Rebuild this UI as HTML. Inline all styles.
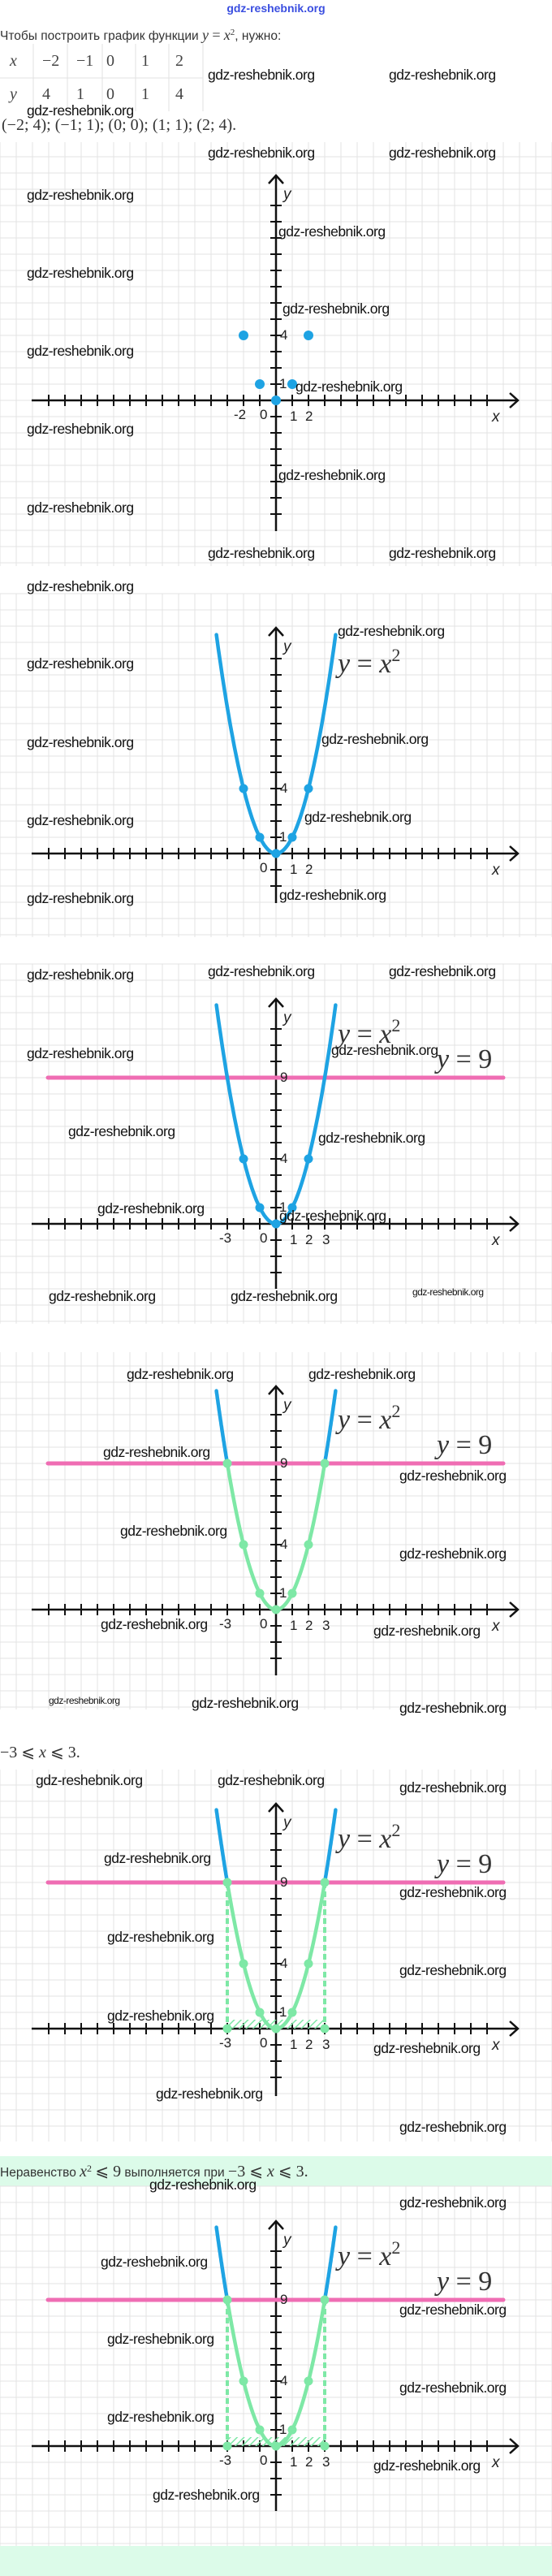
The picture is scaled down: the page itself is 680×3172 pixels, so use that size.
<!DOCTYPE html>
<html><head><meta charset="utf-8">
<style>
html,body{margin:0;padding:0;}
body{width:680px;height:3172px;position:relative;background:#fff;overflow:hidden;font-family:"Liberation Sans",sans-serif;}
svg{position:absolute;left:0;top:0;}
.t{position:absolute;white-space:nowrap;line-height:1;}
.w{position:absolute;white-space:nowrap;font-family:"Liberation Sans",sans-serif;font-size:17.5px;letter-spacing:-0.5px;color:#111;line-height:20px;}
.s{font-size:12px;letter-spacing:-0.5px;}
.m{font-family:"Liberation Serif",serif;}
.i{font-style:italic;}
.lab{position:absolute;font-family:"Liberation Sans",sans-serif;font-size:17px;color:#222;line-height:18px;}
.eq{position:absolute;font-family:"Liberation Serif",serif;font-size:34px;color:#333;line-height:36px;white-space:nowrap;}
</style></head><body>
<svg id="g" width="680" height="3172" xmlns="http://www.w3.org/2000/svg"></svg>

<div class="t" style="left:0;top:3px;width:680px;text-align:center;font-size:14px;color:#3a4ee0;font-weight:bold;">gdz-reshebnik.org</div>
<div class="t" style="left:0;top:34px;font-size:15.5px;color:#333;">Чтобы построить график функции <span class="m i" style="font-size:18px">y</span> <span class="m" style="font-size:18px">=</span> <span class="m i" style="font-size:18px">x</span><sup class="m" style="font-size:11px">2</sup>, нужно:</div>
<div class="t m" style="left:2px;top:144px;font-size:20px;color:#333;">(−2; 4); (−1; 1); (0; 0); (1; 1); (2; 4).</div>
<div class="t m" style="left:0;top:2148px;font-size:20px;color:#333;">−3 ⩽ <i>x</i> ⩽ 3.</div>
<div class="t" style="left:0;top:2664px;font-size:15.5px;color:#333;">Неравенство <span class="m i" style="font-size:20px">x</span><sup class="m" style="font-size:12px">2</sup> <span class="m" style="font-size:20px">⩽ 9</span> выполняется при <span class="m" style="font-size:20px">−3 ⩽ <i>x</i> ⩽ 3.</span></div>

<div id="labels"></div>

<div class="w" style="left:256px;top:82px">gdz-reshebnik.org</div>
<div class="w" style="left:479px;top:82px">gdz-reshebnik.org</div>
<div class="w" style="left:33px;top:126px">gdz-reshebnik.org</div>
<div class="w" style="left:256px;top:178px">gdz-reshebnik.org</div>
<div class="w" style="left:479px;top:178px">gdz-reshebnik.org</div>
<div class="w" style="left:33px;top:230px">gdz-reshebnik.org</div>
<div class="w" style="left:343px;top:275px">gdz-reshebnik.org</div>
<div class="w" style="left:33px;top:326px">gdz-reshebnik.org</div>
<div class="w" style="left:348px;top:370px">gdz-reshebnik.org</div>
<div class="w" style="left:33px;top:422px">gdz-reshebnik.org</div>
<div class="w" style="left:364px;top:466px">gdz-reshebnik.org</div>
<div class="w" style="left:33px;top:518px">gdz-reshebnik.org</div>
<div class="w" style="left:343px;top:575px">gdz-reshebnik.org</div>
<div class="w" style="left:33px;top:615px">gdz-reshebnik.org</div>
<div class="w" style="left:256px;top:671px">gdz-reshebnik.org</div>
<div class="w" style="left:479px;top:671px">gdz-reshebnik.org</div>
<div class="w" style="left:33px;top:712px">gdz-reshebnik.org</div>

<div class="w" style="left:416px;top:767px">gdz-reshebnik.org</div>
<div class="w" style="left:33px;top:807px">gdz-reshebnik.org</div>
<div class="w" style="left:396px;top:900px">gdz-reshebnik.org</div>
<div class="w" style="left:33px;top:904px">gdz-reshebnik.org</div>
<div class="w" style="left:375px;top:996px">gdz-reshebnik.org</div>
<div class="w" style="left:33px;top:1000px">gdz-reshebnik.org</div>
<div class="w" style="left:344px;top:1092px">gdz-reshebnik.org</div>
<div class="w" style="left:33px;top:1096px">gdz-reshebnik.org</div>

<div class="w" style="left:33px;top:1190px">gdz-reshebnik.org</div>
<div class="w" style="left:256px;top:1186px">gdz-reshebnik.org</div>
<div class="w" style="left:479px;top:1186px">gdz-reshebnik.org</div>
<div class="w" style="left:33px;top:1287px">gdz-reshebnik.org</div>
<div class="w" style="left:408px;top:1283px">gdz-reshebnik.org</div>
<div class="w" style="left:84px;top:1383px">gdz-reshebnik.org</div>
<div class="w" style="left:392px;top:1391px">gdz-reshebnik.org</div>
<div class="w" style="left:120px;top:1478px">gdz-reshebnik.org</div>
<div class="w" style="left:344px;top:1487px">gdz-reshebnik.org</div>
<div class="w" style="left:60px;top:1586px">gdz-reshebnik.org</div>
<div class="w" style="left:284px;top:1586px">gdz-reshebnik.org</div>
<div class="w s" style="left:508px;top:1581px">gdz-reshebnik.org</div>

<div class="w" style="left:156px;top:1682px">gdz-reshebnik.org</div>
<div class="w" style="left:380px;top:1682px">gdz-reshebnik.org</div>
<div class="w" style="left:127px;top:1778px">gdz-reshebnik.org</div>
<div class="w" style="left:492px;top:1807px">gdz-reshebnik.org</div>
<div class="w" style="left:148px;top:1875px">gdz-reshebnik.org</div>
<div class="w" style="left:492px;top:1903px">gdz-reshebnik.org</div>
<div class="w" style="left:124px;top:1990px">gdz-reshebnik.org</div>
<div class="w" style="left:460px;top:1998px">gdz-reshebnik.org</div>
<div class="w s" style="left:60px;top:2084px">gdz-reshebnik.org</div>
<div class="w" style="left:236px;top:2087px">gdz-reshebnik.org</div>
<div class="w" style="left:492px;top:2093px">gdz-reshebnik.org</div>

<div class="w" style="left:44px;top:2182px">gdz-reshebnik.org</div>
<div class="w" style="left:268px;top:2182px">gdz-reshebnik.org</div>
<div class="w" style="left:492px;top:2191px">gdz-reshebnik.org</div>
<div class="w" style="left:128px;top:2278px">gdz-reshebnik.org</div>
<div class="w" style="left:492px;top:2320px">gdz-reshebnik.org</div>
<div class="w" style="left:132px;top:2375px">gdz-reshebnik.org</div>
<div class="w" style="left:492px;top:2416px">gdz-reshebnik.org</div>
<div class="w" style="left:132px;top:2472px">gdz-reshebnik.org</div>
<div class="w" style="left:460px;top:2512px">gdz-reshebnik.org</div>
<div class="w" style="left:192px;top:2568px">gdz-reshebnik.org</div>
<div class="w" style="left:492px;top:2609px">gdz-reshebnik.org</div>

<div class="w" style="left:184px;top:2680px">gdz-reshebnik.org</div>
<div class="w" style="left:492px;top:2702px">gdz-reshebnik.org</div>
<div class="w" style="left:124px;top:2775px">gdz-reshebnik.org</div>
<div class="w" style="left:492px;top:2834px">gdz-reshebnik.org</div>
<div class="w" style="left:132px;top:2870px">gdz-reshebnik.org</div>
<div class="w" style="left:492px;top:2930px">gdz-reshebnik.org</div>
<div class="w" style="left:132px;top:2966px">gdz-reshebnik.org</div>
<div class="w" style="left:460px;top:3026px">gdz-reshebnik.org</div>
<div class="w" style="left:188px;top:3062px">gdz-reshebnik.org</div>

<script>
var NS="http://www.w3.org/2000/svg",g=document.getElementById("g"),L=document.getElementById("labels");
function el(n,a){var e=document.createElementNS(NS,n);for(var k in a)e.setAttribute(k,a[k]);g.appendChild(e);return e;}
function lab(txt,x,y,cls,fs){var d=document.createElement("div");d.className=cls||"lab";d.textContent=txt;d.style.left=x+"px";d.style.top=y+"px";if(fs)d.style.fontSize=fs+"px";L.appendChild(d);return d;}
el("rect",{x:0,y:2655,width:680,height:37,fill:"#dcfbe9"});
el("rect",{x:0,y:3135,width:680,height:37,fill:"#dcfbe9"});
var defs=el("defs",{});
defs.innerHTML='<pattern id="h" width="6" height="6" patternUnits="userSpaceOnUse" patternTransform="rotate(45)"><line x1="0" y1="0" x2="0" y2="6" stroke="#7ee8a6" stroke-width="3"/></pattern>';
el("line",{x1:0,y1:96,x2:250,y2:96,stroke:"#e2e2e2"});
[41,83,126,167,208,250].forEach(function(x){el("line",{x1:x,y1:54,x2:x,y2:137,stroke:"#e2e2e2"});});
var tx=[["x","−2","−1","0","1","2"],["y","4","1","0","1","4"]],cx=[12,52,94,131,174,216];
tx.forEach(function(r,i){r.forEach(function(c,j){var d=lab(c,cx[j],i?106:65,"t m",20);d.style.color="#444";if(j==0)d.style.fontStyle="italic";});});

var panels=[
 {t:175,b:697,ax:493,yt:216,yb:654,type:1},
 {t:731,b:1154,ax:1051,yt:773,yb:1112,type:2},
 {t:1187,b:1630,ax:1507,yt:1230,yb:1587,type:3},
 {t:1665,b:2105,ax:1982,yt:1707,yb:2063,type:4},
 {t:2179,b:2637,ax:2498,yt:2221,yb:2581,type:5},
 {t:2692,b:3135,ax:3012,yt:2735,yb:3092,type:5}
];
var BLUE="#1ea3e3",GREEN="#7ee8a6",PINK="#ef6db3";
function X(u){return 340+20*u;}
panels.forEach(function(p){
 var a=p.ax;
 for(var x=0;x<=680;x+=20)el("line",{x1:x,y1:p.t,x2:x,y2:p.b,stroke:"#e3e3e3","stroke-width":1});
 var y0=a-Math.floor((a-p.t)/20)*20;
 for(var y=y0;y<=p.b;y+=20)el("line",{x1:0,y1:y,x2:680,y2:y,stroke:"#e3e3e3","stroke-width":1});
 el("line",{x1:39,y1:a,x2:638,y2:a,stroke:"#111","stroke-width":2.5});
 el("polyline",{points:"628,"+(a-9)+" 638,"+a+" 628,"+(a+9),fill:"none",stroke:"#111","stroke-width":2.5});
 el("line",{x1:340,y1:p.yt,x2:340,y2:p.yb,stroke:"#111","stroke-width":2.5});
 el("polyline",{points:"331,"+(p.yt+10)+" 340,"+p.yt+" 349,"+(p.yt+10),fill:"none",stroke:"#111","stroke-width":2.5});
 for(var x=60;x<=600;x+=20)el("line",{x1:x,y1:a-7,x2:x,y2:a+7,stroke:"#111","stroke-width":2});
 for(var y=a-20;y>p.yt+20;y-=20)el("line",{x1:333,y1:y,x2:347,y2:y,stroke:"#111","stroke-width":2});
 for(var y=a+20;y<p.yb-5;y+=20)el("line",{x1:333,y1:y,x2:347,y2:y,stroke:"#111","stroke-width":2});
 var ty=p.type;
 if(ty>=3){el("line",{x1:59,y1:a-180,x2:620,y2:a-180,stroke:PINK,"stroke-width":5,"stroke-linecap":"round"});}
 function curve(u1,u2,col){var d="";for(var i=0;i<=60;i++){var u=u1+(u2-u1)*i/60;d+=(i?"L":"M")+X(u).toFixed(1)+","+(a-20*u*u).toFixed(1);}el("path",{d:d,fill:"none",stroke:col,"stroke-width":4.5,"stroke-linecap":"round"});}
 if(ty==5){
  el("rect",{x:280,y:a-11,width:120,height:11,fill:"url(#h)"});
  el("line",{x1:280,y1:a-180,x2:280,y2:a,stroke:GREEN,"stroke-width":4,"stroke-dasharray":"7 4"});
  el("line",{x1:400,y1:a-180,x2:400,y2:a,stroke:GREEN,"stroke-width":4,"stroke-dasharray":"7 4"});
 }
 if(ty==2||ty==3)curve(-3.67,3.67,BLUE);
 if(ty>=4){curve(-3.67,-3,BLUE);curve(3,3.67,BLUE);curve(-3,3,GREEN);}
 var pts=[-2,-1,0,1,2];if(ty>=4)pts=[-3,-2,-1,0,1,2,3];
 pts.forEach(function(u){el("circle",{cx:X(u),cy:a-20*u*u,r:ty==1?6:5.5,fill:ty>=4?GREEN:BLUE});});
 if(ty==5){el("circle",{cx:280,cy:a,r:5.5,fill:GREEN});el("circle",{cx:400,cy:a,r:5.5,fill:GREEN});}
 var d=lab("y",349,p.yt+15);d.style.fontStyle="italic";d.style.fontSize="19px";
 d=lab("x",606,a+12);d.style.fontStyle="italic";d.style.fontSize="19px";
 lab("0",320,a+9);lab("1",357,a+11);lab("2",376,a+11);
 if(ty==1)lab("-2",288,a+9);
 if(ty>=3){lab("-3",270,a+9);lab("3",397,a+11);lab("9",345,a-189);}
 lab("4",345,a-89);lab("1",344,a-29);
 if(ty>=2){var e=lab("",416,a-260,"eq");e.innerHTML='<i>y</i> = <i>x</i><sup style="font-size:22px;vertical-align:14px">2</sup>';e.style.top=(a-262)+"px";}
 if(ty>=3){var e=lab("",538,a-220,"eq");e.innerHTML='<i>y</i> = 9';e.style.top=(a-220)+"px";}
});
</script>
</body></html>
